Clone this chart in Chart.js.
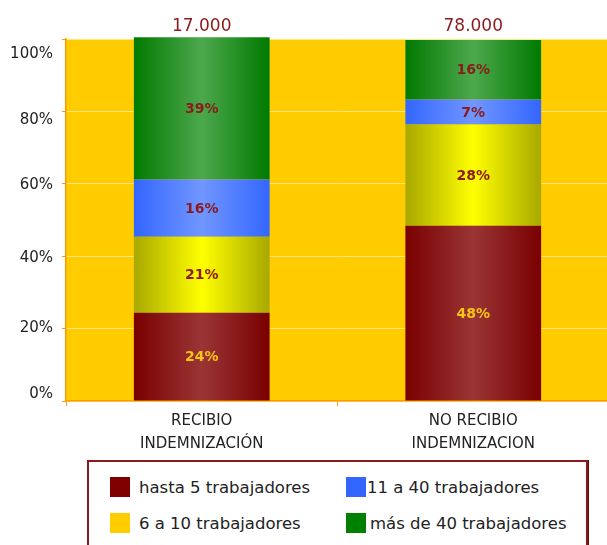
<!DOCTYPE html>
<html>
<head>
<meta charset="utf-8">
<script src="https://cdn.jsdelivr.net/npm/chart.js@4"></script>
<style>
  body { margin: 0; background: #fff; overflow: hidden; font-family: "DejaVu Sans", sans-serif; }
  #wrap { position: relative; width: 607px; height: 545px; overflow: hidden; }
  #chartBox { position: absolute; left: 0; top: 0; width: 620px; height: 460px; }
  #legend { position: absolute; left: 87px; top: 460px; width: 497px; height: 120px; border: 2px solid #8B1A1A; box-shadow: 1px 0 0 #5a0f0f; }
  .sw { position: absolute; width: 20px; height: 20px; }
  .txt { position: absolute; font-size: 16.5px; line-height: 20px; color: #222; white-space: nowrap; }
</style>
</head>
<body>
<div id="wrap">
  <div id="chartBox"><canvas id="chart" width="620" height="460"></canvas></div>
  <div id="legend"></div>
</div>
<script>
// categories and values (percent of each group)
const categories = [["RECIBIO", "INDEMNIZACIÓN"], ["NO RECIBIO", "INDEMNIZACION"]];
const totals = ["17.000", "78.000"];
const hasta5 = [24.4, 48.4];
const seisA10 = [21.0, 28.0];
const onceA40 = [15.8, 6.9];
const masDe40 = [39.3, 16.4];
const yTicks = [0, 20, 40, 60, 80, 100];

const seriesNames = ["hasta 5 trabajadores", "6 a 10 trabajadores", "11 a 40 trabajadores", "más de 40 trabajadores"];

// colours: legend swatch, gradient edge, gradient center, label colour
const styles = [
  { legend: "#800000", edge: "#790000", mid: "#9A3535", label: "#F5C518" },
  { legend: "#FFCC00", edge: "#A8A800", mid: "#FFFF00", label: "#8B1A1A" },
  { legend: "#3366FF", edge: "#3366FF", mid: "#7196FF", label: "#8B1A1A" },
  { legend: "#008000", edge: "#007A00", mid: "#4DA84D", label: "#8B1A1A" }
];

// the original y labels sit a little off their ticks
const yLabelShift = [-7, 0, 2, 1, 9, 15];

function barGradient(style) {
  return function (context) {
    const chart = context.chart;
    const xs = chart.scales.x;
    if (!chart.chartArea || !xs) return style.edge;
    const cx = xs.getPixelForValue(context.dataIndex);
    const w = (xs.width / categories.length) * 0.5;
    const g = chart.ctx.createLinearGradient(cx - w / 2, 0, cx + w / 2, 0);
    g.addColorStop(0, style.edge);
    g.addColorStop(0.5, style.mid);
    g.addColorStop(1, style.edge);
    return g;
  };
}

const seriesData = [hasta5, seisA10, onceA40, masDe40];
const datasets = seriesData.map((vals, i) => ({
  label: seriesNames[i],
  data: vals,
  backgroundColor: barGradient(styles[i]),
  borderWidth: 0,
  barPercentage: 0.5,
  categoryPercentage: 1.0,
  clip: false
}));

// plot background
const plotBg = {
  id: "plotBg",
  beforeDraw(chart) {
    const { ctx, chartArea: a } = chart;
    ctx.save();
    ctx.fillStyle = "#FFCC00";
    ctx.fillRect(a.left, a.top, a.right - a.left, a.bottom - a.top);
    ctx.restore();
  }
};

// percent labels inside segments, totals above bars, y tick labels
const labelsPlugin = {
  id: "labelsPlugin",
  afterDatasetsDraw(chart) {
    const ctx = chart.ctx;
    ctx.save();
    ctx.textAlign = "center";
    ctx.textBaseline = "middle";
    ctx.font = "bold 14px 'DejaVu Sans'";
    chart.data.datasets.forEach((ds, i) => {
      const meta = chart.getDatasetMeta(i);
      ctx.fillStyle = styles[i].label;
      meta.data.forEach((bar, j) => {
        ctx.fillText(Math.round(ds.data[j]) + "%", bar.x, (bar.y + bar.base) / 2 + 1);
      });
    });
    ctx.font = "17px 'DejaVu Sans'";
    ctx.fillStyle = "#8B1A1A";
    const xs = chart.scales.x;
    totals.forEach((t, j) => {
      ctx.fillText(t, xs.getPixelForValue(j), 27);
    });
    const ys = chart.scales.y;
    ctx.textAlign = "right";
    ctx.font = "15px 'DejaVu Sans'";
    ctx.fillStyle = "#222";
    yTicks.forEach((v, k) => {
      ctx.fillText(v + "%", ys.left + ys.width - 13, ys.getPixelForValue(v) + yLabelShift[k]);
    });
    ctx.restore();
  }
};

const ctx = document.getElementById("chart").getContext("2d");
const myChart = new Chart(ctx, {
  type: "bar",
  data: { labels: categories, datasets: datasets },
  options: {
    responsive: false,
    animation: false,
    layout: { padding: { top: 39, right: 11, left: 0, bottom: 0 } },
    plugins: { legend: { display: false }, tooltip: { enabled: false } },
    scales: {
      x: {
        stacked: true,
        afterFit: (scale) => { scale.height = 59; },
        grid: { drawOnChartArea: false, tickLength: 5, tickColor: "#FF9900" },
        border: { color: "#FF9900", width: 1.5 },
        ticks: { color: "#222", padding: 4, font: { family: "DejaVu Sans", size: 15, lineHeight: 1.5 } }
      },
      y: {
        stacked: true,
        min: 0,
        max: 100,
        afterFit: (scale) => { scale.width = 66; },
        grid: { color: "#FFE680", tickLength: 4, tickColor: "#FF9900" },
        border: { color: "#FF9900", width: 1.5 },
        ticks: { stepSize: 20, display: false }
      }
    }
  },
  plugins: [plotBg, labelsPlugin]
});

// legend in two columns, built from the series
const legendPos = [
  { sx: 21, sy: 15, tx: 50 },
  { sx: 21, sy: 51, tx: 50 },
  { sx: 257, sy: 15, tx: 278 },
  { sx: 257, sy: 51, tx: 281 }
];
const legend = document.getElementById("legend");
seriesNames.forEach((name, i) => {
  const p = legendPos[i];
  const sw = document.createElement("div");
  sw.className = "sw";
  sw.style.left = p.sx + "px";
  sw.style.top = p.sy + "px";
  sw.style.background = styles[i].legend;
  legend.appendChild(sw);
  const t = document.createElement("div");
  t.className = "txt";
  t.style.left = p.tx + "px";
  t.style.top = (p.sy + 1) + "px";
  t.textContent = name;
  legend.appendChild(t);
});
</script>
</body>
</html>
